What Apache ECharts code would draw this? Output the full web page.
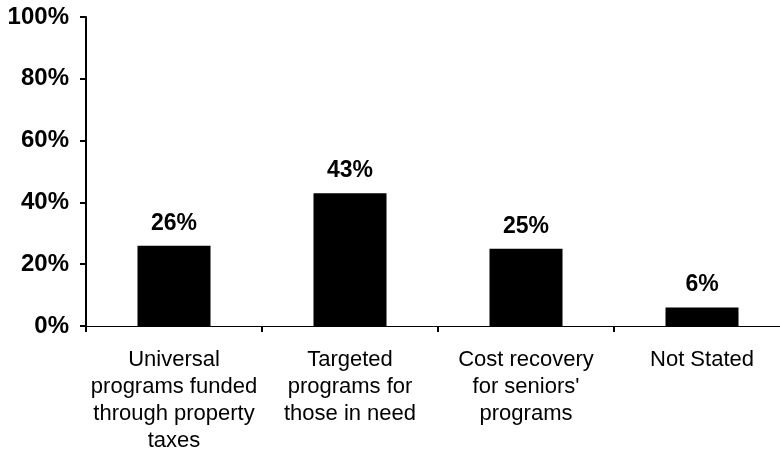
<!DOCTYPE html>
<html>
<head>
<meta charset="utf-8">
<script src="https://cdn.jsdelivr.net/npm/echarts@6/dist/echarts.min.js"></script>
<style>html,body{margin:0;padding:0;background:#fff;}#c{width:780px;height:459px;}</style>
</head>
<body>
<div id="c"></div>
<script>
var categories = [
  "Universal\nprograms funded\nthrough property\ntaxes",
  "Targeted\nprograms for\nthose in need",
  "Cost recovery\nfor seniors'\nprograms",
  "Not Stated"
];
var values = [26, 43, 25, 6];
var yTicks = [0, 20, 40, 60, 80, 100];

var chart = echarts.init(document.getElementById('c'), null, {renderer: 'canvas'});
chart.setOption({
  animation: false,
  backgroundColor: '#ffffff',
  grid: {left: 86, width: 704, top: 17, height: 309, containLabel: false, outerBoundsMode: 'none'},
  xAxis: {
    type: 'category',
    data: categories,
    boundaryGap: true,
    axisLine: {show: true, lineStyle: {color: '#000', width: 1}},
    axisTick: {show: true, length: 6, inside: false, lineStyle: {color: '#000', width: 2}},
    axisLabel: {
      color: '#000', fontFamily: 'Liberation Sans, Arial, sans-serif', fontSize: 22,
      lineHeight: 27, margin: 20, interval: 0
    }
  },
  yAxis: {
    type: 'value',
    min: yTicks[0], max: yTicks[yTicks.length - 1], interval: 20,
    axisLine: {show: true, lineStyle: {color: '#000', width: 2}},
    axisTick: {show: true, length: 6, lineStyle: {color: '#000', width: 2}},
    splitLine: {show: false},
    axisLabel: {
      color: '#000', fontFamily: 'Liberation Sans, Arial, sans-serif', fontSize: 24,
      fontWeight: 'bold', margin: 17,
      formatter: function (v) { return v + '%'; }
    }
  },
  series: [{
    type: 'bar',
    data: values,
    barWidth: 73,
    itemStyle: {color: '#000'},
    label: {
      show: true, position: 'top', distance: 11, color: '#000',
      fontFamily: 'Liberation Sans, Arial, sans-serif', fontSize: 23, fontWeight: 'bold',
      formatter: function (p) { return p.value + '%'; }
    }
  }]
});
</script>
</body>
</html>
